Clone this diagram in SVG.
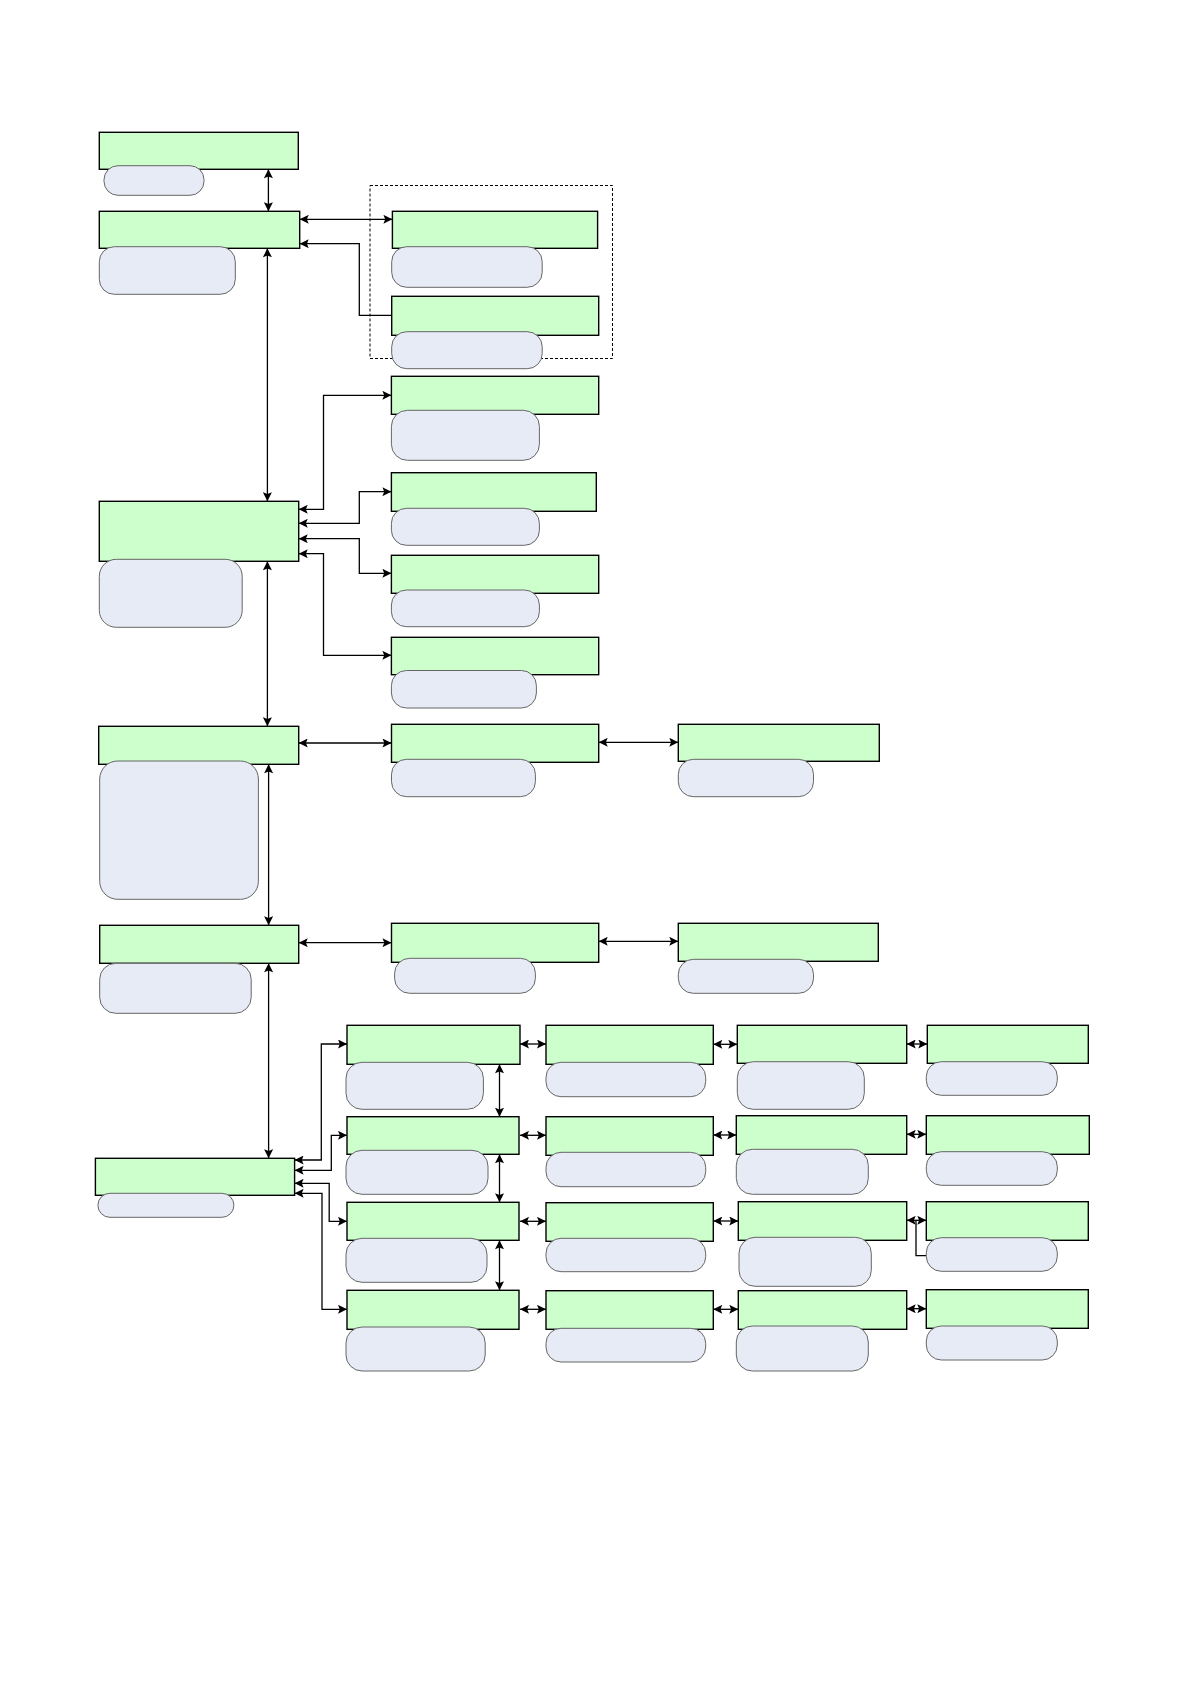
<svg xmlns="http://www.w3.org/2000/svg" width="1191" height="1684" viewBox="0 0 1191 1684">
<style>
.box{fill:#ccffcc;stroke:#000;stroke-width:1.4}
.pill{fill:#e6ebf5;stroke:#666;stroke-width:1}
.ln{fill:none;stroke:#000;stroke-width:1.3}
.dbl{marker-start:url(#ah);marker-end:url(#ah)}
.one{marker-end:url(#ah)}
.grp{fill:none;stroke:#000;stroke-width:1;stroke-dasharray:3,2}
</style>
<defs>
<marker id="ah" markerUnits="userSpaceOnUse" viewBox="0 0 10 10" refX="10" refY="5" markerWidth="10" markerHeight="9" orient="auto-start-reverse"><path d="M0,0L10,5L0,10L2,5z" fill="#000"/></marker>
</defs>
<rect width="1191" height="1684" fill="#fff"/>
<rect class="grp" x="370" y="185.5" width="242.5" height="173"/>
<g id="connectors">
<path class="ln dbl" d="M268.4,169.3V211.3"/>
<path class="ln dbl" d="M299.7,219.3H392.4"/>
<path class="ln one" d="M391.7,315.3H359.3V243.7H299.7"/>
<path class="ln dbl" d="M267.4,248.3V501.3"/>
<path class="ln dbl" d="M298.7,509.3H323.5V395.3H391.4"/>
<path class="ln dbl" d="M298.7,523.3H359.3V491.7H391.4"/>
<path class="ln dbl" d="M298.7,538.7H359.3V573.3H391.4"/>
<path class="ln dbl" d="M298.7,553.7H323.5V655.3H391.4"/>
<path class="ln dbl" d="M267.4,561.3V726.3"/>
<path class="ln dbl" d="M298.7,743H391.5"/>
<path class="ln dbl" d="M598.7,742.3H678.3"/>
<path class="ln dbl" d="M268.6,764.3V925.3"/>
<path class="ln dbl" d="M298.7,942.7H391.5"/>
<path class="ln dbl" d="M598.7,941.3H678.3"/>
<path class="ln dbl" d="M268.6,963.3V1158.3"/>
<path class="ln dbl" d="M294.6,1160H321.3V1044H347"/>
<path class="ln dbl" d="M294.6,1170.3H331.3V1135.3H347"/>
<path class="ln dbl" d="M294.6,1183.3H329.2V1221.3H347"/>
<path class="ln dbl" d="M294.6,1193.3H322V1309.3H347"/>
<path class="ln dbl" d="M499.5,1064.3V1116.7"/>
<path class="ln dbl" d="M499.5,1154.3V1202.3"/>
<path class="ln dbl" d="M499.5,1240.3V1290.3"/>
<path class="ln dbl" d="M520,1044H546"/>
<path class="ln dbl" d="M520,1135.3H546"/>
<path class="ln dbl" d="M520,1221.3H546"/>
<path class="ln dbl" d="M520,1309.3H546"/>
<path class="ln dbl" d="M713.3,1044.3H737.3"/>
<path class="ln dbl" d="M713.3,1135H736.3"/>
<path class="ln dbl" d="M713.3,1221H738.3"/>
<path class="ln dbl" d="M713.3,1309.3H738.3"/>
<path class="ln dbl" d="M906.7,1044H927.3"/>
<path class="ln dbl" d="M906.7,1134.3H926.3"/>
<path class="ln dbl" d="M906.7,1220.3H926.3"/>
<path class="ln dbl" d="M906.7,1308.7H926.3"/>
<path class="ln" d="M916,1221V1255.7H926.3"/>
</g>
<g id="n-a"><rect class="box" x="99.3" y="132.3" width="199" height="37"/><rect class="pill" x="104" y="165.7" width="100" height="29.6" rx="14"/></g>
<g id="n-b"><rect class="box" x="99.3" y="211.3" width="200.4" height="37"/><rect class="pill" x="99.3" y="246.7" width="136" height="47.6" rx="15"/></g>
<g id="n-c"><rect class="box" x="392.4" y="211.3" width="205.2" height="37"/><rect class="pill" x="391.7" y="246.7" width="150.5" height="40.6" rx="15"/></g>
<g id="n-d"><rect class="box" x="391.7" y="296.3" width="207" height="39"/><rect class="pill" x="391.7" y="331.7" width="150.5" height="37" rx="15"/></g>
<g id="n-e"><rect class="box" x="99.3" y="501.3" width="199.4" height="60"/><rect class="pill" x="99.3" y="559.3" width="142.9" height="68" rx="17"/></g>
<g id="n-f"><rect class="box" x="391.4" y="376.3" width="207.3" height="38"/><rect class="pill" x="391.4" y="410.3" width="148" height="50" rx="16"/></g>
<g id="n-g"><rect class="box" x="391.4" y="472.7" width="204.9" height="38.6"/><rect class="pill" x="391.4" y="508.3" width="148" height="37" rx="15"/></g>
<g id="n-h"><rect class="box" x="391.4" y="555.3" width="207.3" height="38"/><rect class="pill" x="391.4" y="590" width="148" height="36.7" rx="15"/></g>
<g id="n-i"><rect class="box" x="391.4" y="637.3" width="207.3" height="37.4"/><rect class="pill" x="391.4" y="670.5" width="145" height="37.5" rx="15"/></g>
<g id="n-j"><rect class="box" x="98.7" y="726.3" width="200" height="38"/><rect class="pill" x="99.7" y="761" width="158.7" height="138.3" rx="18"/></g>
<g id="n-k"><rect class="box" x="391.5" y="724.3" width="207.2" height="38"/><rect class="pill" x="391.5" y="759.3" width="143.9" height="37.4" rx="15"/></g>
<g id="n-l"><rect class="box" x="678.3" y="724.3" width="201" height="37"/><rect class="pill" x="678.3" y="759.3" width="135.2" height="37.4" rx="15"/></g>
<g id="n-m"><rect class="box" x="99.7" y="925.3" width="199" height="38"/><rect class="pill" x="99.7" y="963.3" width="151.5" height="50" rx="16"/></g>
<g id="n-n"><rect class="box" x="391.5" y="923.3" width="207.2" height="39"/><rect class="pill" x="394.6" y="958.3" width="140.8" height="35" rx="15"/></g>
<g id="n-o"><rect class="box" x="678.3" y="923.3" width="200" height="38"/><rect class="pill" x="678.3" y="959.3" width="135.2" height="34" rx="15"/></g>
<g id="n-r"><rect class="box" x="95.4" y="1158.3" width="199.2" height="37"/><rect class="pill" x="97.9" y="1193.3" width="136" height="24" rx="12"/></g>
<g id="n-11"><rect class="box" x="347" y="1025.3" width="173" height="39"/><rect class="pill" x="346" y="1062.3" width="137.4" height="47" rx="16"/></g>
<g id="n-21"><rect class="box" x="347" y="1116.7" width="172" height="37.6"/><rect class="pill" x="346" y="1150.3" width="142" height="44" rx="16"/></g>
<g id="n-31"><rect class="box" x="347" y="1202.3" width="172" height="38"/><rect class="pill" x="346" y="1238.3" width="141" height="44" rx="16"/></g>
<g id="n-41"><rect class="box" x="347" y="1290.3" width="172" height="39"/><rect class="pill" x="346" y="1327" width="139.2" height="44" rx="16"/></g>
<g id="n-12"><rect class="box" x="546" y="1025.3" width="167.3" height="39"/><rect class="pill" x="546" y="1062.3" width="159.7" height="34.4" rx="15"/></g>
<g id="n-22"><rect class="box" x="546" y="1116.7" width="167.3" height="38.6"/><rect class="pill" x="546" y="1152.3" width="159.7" height="34.4" rx="15"/></g>
<g id="n-32"><rect class="box" x="546" y="1202.7" width="167.3" height="38.6"/><rect class="pill" x="546" y="1238.3" width="159.7" height="33.4" rx="15"/></g>
<g id="n-42"><rect class="box" x="546" y="1290.7" width="167.3" height="38.6"/><rect class="pill" x="546" y="1328.3" width="159.7" height="33.7" rx="15"/></g>
<g id="n-13"><rect class="box" x="737.3" y="1025.3" width="169.4" height="38"/><rect class="pill" x="737.3" y="1061.7" width="127" height="47.6" rx="16"/></g>
<g id="n-23"><rect class="box" x="736.3" y="1115.7" width="170.4" height="38.6"/><rect class="pill" x="736.3" y="1149.3" width="132" height="45" rx="16"/></g>
<g id="n-33"><rect class="box" x="738.3" y="1201.7" width="168.4" height="38.6"/><rect class="pill" x="739" y="1237.3" width="132.3" height="49" rx="16"/></g>
<g id="n-43"><rect class="box" x="738.3" y="1290.7" width="168.4" height="38.6"/><rect class="pill" x="736.3" y="1326" width="132" height="45" rx="16"/></g>
<g id="n-14"><rect class="box" x="927.3" y="1025.3" width="161" height="38"/><rect class="pill" x="926.3" y="1061.7" width="131" height="33.6" rx="15"/></g>
<g id="n-24"><rect class="box" x="926.3" y="1115.7" width="163" height="38.6"/><rect class="pill" x="926.3" y="1151.7" width="131" height="33.6" rx="15"/></g>
<g id="n-34"><rect class="box" x="926.3" y="1201.7" width="162" height="38.6"/><rect class="pill" x="926.3" y="1237.7" width="131" height="33.6" rx="15"/></g>
<g id="n-44"><rect class="box" x="926.3" y="1289.7" width="162" height="38.6"/><rect class="pill" x="926.3" y="1326" width="131" height="34" rx="15"/></g>
</svg>
